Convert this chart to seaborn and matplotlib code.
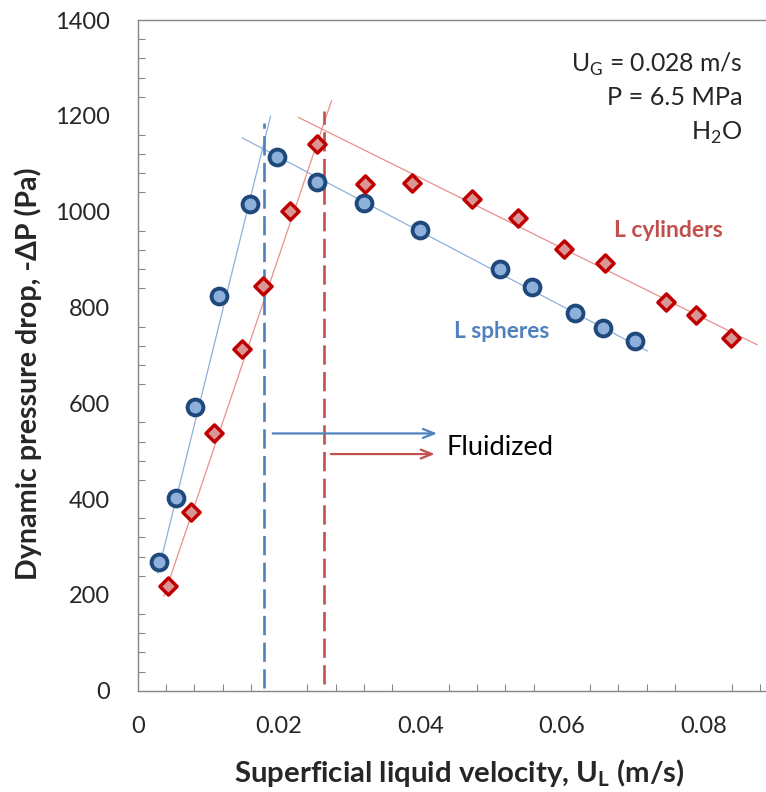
import numpy as np
import pandas as pd
import matplotlib
matplotlib.use("Agg")
import matplotlib.pyplot as plt
import seaborn as sns
from matplotlib.ticker import MultipleLocator, FixedLocator

# ---------------- data ----------------
sph_x = [0.00306, 0.00541, 0.0081, 0.01154, 0.01592, 0.01964, 0.02539, 0.03199,
         0.0400, 0.0512, 0.05583, 0.06185, 0.06581, 0.07029]
sph_y = [269, 402, 593, 824, 1016, 1115, 1061, 1018, 962, 880, 843, 788, 757, 729]

cyl_x = [0.00424, 0.00753, 0.01083, 0.0147, 0.01767, 0.02153, 0.0253, 0.03217,
         0.03882, 0.04729, 0.0538, 0.06025, 0.06614, 0.07477, 0.07891, 0.08396]
cyl_y = [219, 372, 537, 713, 845, 1002, 1141, 1058, 1059, 1027, 986, 923, 892, 812, 784, 736]

# trend line end points
sph_up_x = [0.00283, 0.0188]
sph_up_y = [245, 1200]
sph_dn_x = [0.01479, 0.0721]
sph_dn_y = [1154, 709]
cyl_up_x = [0.00372, 0.02742]
cyl_up_y = [198, 1232]
cyl_dn_x = [0.0227, 0.08763]
cyl_dn_y = [1197, 722]

# minimum fluidization velocities (dashed lines)
umf_sph = 0.01785
umf_cyl = 0.02633
umf_sph_y = [5, 1185]
umf_cyl_y = [15, 1210]

# arrows
arrow_sph = ([0.01908, 0.04235], 537)
arrow_cyl = ([0.02732, 0.04202], 494)

x_ticks = [0, 0.02, 0.04, 0.06, 0.08]
x_labels = ["0", "0.02", "0.04", "0.06", "0.08"]
y_ticks = [0, 200, 400, 600, 800, 1000, 1200, 1400]

# ---------------- style ----------------
sns.set_style("white")
plt.rcParams['font.family'] = ['Lato', 'DejaVu Sans']
plt.rcParams['mathtext.fontset'] = 'custom'
plt.rcParams['mathtext.rm'] = 'Lato'
plt.rcParams['mathtext.bf'] = 'Lato:bold'

BLUE_DARK = "#1F497D"
BLUE_FILL = "#8EB1DB"
BLUE_LINE = "#8EB0DA"
BLUE_DASH = "#4F81BD"
RED_DARK = "#C00000"
RED_FILL = "#DA9694"
RED_LINE = "#E8908D"
RED_DASH = "#C0504D"
GRAY = "#868686"

W, H = 766, 792
fig = plt.figure(figsize=(W / 100, H / 100), dpi=100)
ax = fig.add_axes([0.1798, 0.1279, 0.8195, 0.8468])

# trend lines
for xs, ys, c in [(sph_up_x, sph_up_y, BLUE_LINE), (sph_dn_x, sph_dn_y, BLUE_LINE),
                  (cyl_up_x, cyl_up_y, RED_LINE), (cyl_dn_x, cyl_dn_y, RED_LINE)]:
    sns.lineplot(x=xs, y=ys, ax=ax, color=c, linewidth=0.9, zorder=2)

# dashed vertical lines
ax.plot([umf_sph, umf_sph], umf_sph_y, color=BLUE_DASH, lw=1.9, dashes=(7.3, 2.8), zorder=2)
ax.plot([umf_cyl, umf_cyl], umf_cyl_y, color=RED_DASH, lw=1.9, dashes=(7.3, 2.8), zorder=2)

# arrows
for (xs, yv), c in [(arrow_sph, BLUE_DASH), (arrow_cyl, RED_DASH)]:
    ax.annotate("", xy=(xs[1], yv), xytext=(xs[0], yv),
                arrowprops=dict(arrowstyle="->,head_length=0.8,head_width=0.32",
                                color=c, lw=1.6, shrinkA=0, shrinkB=0))

# scatter points
df_s = pd.DataFrame({"x": sph_x, "y": sph_y})
df_c = pd.DataFrame({"x": cyl_x, "y": cyl_y})
sns.scatterplot(data=df_s, x="x", y="y", ax=ax, marker="o", s=130,
                facecolor=BLUE_FILL, edgecolor=BLUE_DARK, linewidth=2.8, zorder=4)
sns.scatterplot(data=df_c, x="x", y="y", ax=ax, marker="D", s=76,
                facecolor=RED_FILL, edgecolor=RED_DARK, linewidth=2.5, zorder=4)

# texts (baseline anchored)
t_fl = ax.text(0.04367, 492, "Fluidized", fontsize=15, va="baseline", ha="left", color="black")
t_cy = ax.text(0.06732, 947, "L cylinders", fontsize=14, fontweight="bold", color=RED_DASH,
               ha="left", va="baseline")
t_sp = ax.text(0.04471, 736, "L spheres", fontsize=14, fontweight="bold", color=BLUE_DASH,
               ha="left", va="baseline")
t_ug = ax.text(0.0856, 1292, r"U$_\mathregular{G}$ = 0.028 m/s", fontsize=15, ha="right", va="baseline")
t_p = ax.text(0.0856, 1223, "P = 6.5 MPa", fontsize=15, ha="right", va="baseline")
t_h = ax.text(0.0856, 1150, r"H$_\mathregular{2}$O", fontsize=15, ha="right", va="baseline")

# axes
ax.set_xlim(0, 0.0888)
ax.set_ylim(0, 1400)
ax.xaxis.set_major_locator(FixedLocator(x_ticks))
ax.set_xticklabels(x_labels)
ax.xaxis.set_minor_locator(MultipleLocator(0.004))
ax.yaxis.set_major_locator(FixedLocator(y_ticks))
ax.yaxis.set_minor_locator(MultipleLocator(40))

ax.tick_params(axis="x", which="major", direction="out", length=6.5, width=0.8,
               color=GRAY, labelsize=16, pad=12)
ax.tick_params(axis="x", which="minor", direction="in", length=5, width=0.8, color=GRAY,
               bottom=True)
ax.tick_params(axis="y", which="major", direction="inout", length=12.5, width=0.8,
               color=GRAY, labelsize=16, pad=14)
ax.tick_params(axis="y", which="minor", direction="in", length=5, width=0.8, color=GRAY,
               left=True)

for side in ["left", "bottom", "top"]:
    ax.spines[side].set_color(GRAY)
    ax.spines[side].set_linewidth(1.0)
ax.spines["right"].set_visible(False)

ax.set_xlabel(r"Superficial liquid velocity, U$_\mathregular{L}$ (m/s)", fontsize=18,
              fontweight="bold", va="baseline", ha="center")
ax.set_ylabel("Dynamic pressure drop, -ΔP (Pa)", fontsize=18, fontweight="bold",
              va="center", ha="center")
ax.xaxis.set_label_coords((459.5 - 137.7) / 627.7, (690.7 - 782) / 670.7)
ax.yaxis.set_label_coords((28 - 137.7) / 627.7, (690.7 - 373.5) / 670.7)


# ---- fit font sizes to the measured pixel sizes of the reference ----
def fit(t, target, dim="w", n=3):
    for _ in range(n):
        fig.canvas.draw()
        bb = t.get_window_extent(fig.canvas.get_renderer())
        cur = bb.width if dim == "w" else bb.height
        t.set_fontsize(t.get_fontsize() * target / cur)


fit(t_fl, 107)
fit(t_cy, 108.7)
fit(t_sp, 95)
fit(t_ug, 171)
fit(t_p, 135)
t_h.set_fontsize(t_p.get_fontsize())
fit(ax.xaxis.label, 451)
fit(ax.yaxis.label, 413, dim="h")

for _ in range(3):
    fig.canvas.draw()
    lab = [l for l in ax.get_yticklabels() if l.get_text() == "1200"][0]
    bb = lab.get_window_extent(fig.canvas.get_renderer())
    size = lab.get_fontsize() * 55 / bb.width
    ax.tick_params(axis="both", which="major", labelsize=size)

fig.savefig("out.png", dpi=100)
